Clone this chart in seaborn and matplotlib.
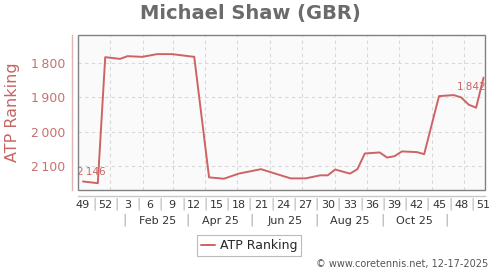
import matplotlib
matplotlib.use('Agg')
import matplotlib.pyplot as plt
import seaborn as sns
import pandas as pd
import numpy as np
from matplotlib.transforms import blended_transform_factory
from matplotlib.patches import Rectangle

# ---- data ----
week_index = [0, 2, 3, 5, 6, 8, 10, 12, 15, 17, 19, 21, 24, 28, 30, 32, 33, 34,
              36, 37, 38, 40, 41, 42, 43, 45, 46, 48, 50, 51, 52, 53, 54]
ranking = [2146, 2151, 1782, 1787, 1779, 1781, 1773, 1773, 1781, 2134, 2138, 2123,
           2110, 2137, 2137, 2128, 2128, 2111, 2123, 2110, 2064, 2061, 2076, 2072,
           2058, 2060, 2066, 1896, 1893, 1900, 1921, 1930, 1842]
week_labels = ['49', '52', '3', '6', '9', '12', '15', '18', '21', '24', '27', '30',
               '33', '36', '39', '42', '45', '48', '51']
week_label_pos = list(range(0, 55, 3))
month_labels = ['Feb 25', 'Apr 25', 'Jun 25', 'Aug 25', 'Oct 25']
month_label_dates = ['2025-02-15', '2025-04-15', '2025-06-15', '2025-08-15', '2025-10-15']
month_sep_dates = ['2025-01-15', '2025-03-15', '2025-05-15', '2025-07-15', '2025-09-15', '2025-11-15']
grid_month_dates = ['2025-01-01', '2025-02-01', '2025-03-01', '2025-04-01', '2025-05-01',
                    '2025-06-01', '2025-07-01', '2025-08-01', '2025-09-01', '2025-10-01',
                    '2025-11-01', '2025-12-01']
y_ticks = [1800, 1900, 2000, 2100]
start = pd.Timestamp('2024-12-06 12:00')


def to_week(dates):
    return [(pd.Timestamp(d) - start) / pd.Timedelta(days=7) for d in dates]


df = pd.DataFrame({'week': week_index, 'ATP Ranking': ranking})

LINE = '#cd6464'
TICKRED = '#c87070'

sns.set_style('white')
plt.rcParams['font.family'] = ['DejaVu Sans']

fig = plt.figure(figsize=(5, 2.7), dpi=100)
ax = fig.add_axes([78 / 500, 1 - 190 / 270, 407 / 500, 155 / 270])
ax.set_facecolor('#fafafa')

sns.lineplot(data=df, x='week', y='ATP Ranking', color=LINE, linewidth=1.4,
             label='ATP Ranking', ax=ax, legend=False)

ax.set_xlim(-0.67, 54.2)
ax.set_ylim(2171, 1717)

# y axis
ax.set_yticks(y_ticks)
ax.set_yticklabels([f'{v:,}'.replace(',', '\u2009') for v in y_ticks])
ax.tick_params(axis='y', length=0, pad=5, labelsize=9, labelcolor=TICKRED)
ax.set_ylabel('ATP Ranking', color='#c86464', fontsize=11.5)
ax.yaxis.set_label_coords(-0.143, 0.5)

# x axis
ax.set_xticks(week_label_pos)
ax.set_xticklabels(week_labels)
ax.set_xticks(to_week(grid_month_dates), minor=True)
ax.tick_params(axis='x', which='both', length=0, pad=3, labelsize=8, labelcolor='#333333')
ax.set_xlabel('')

ax.grid(False)
ax.grid(which='minor', axis='x', linestyle=(0, (3, 3)), color='#d8d8d8', linewidth=0.8)
ax.grid(which='major', axis='y', linestyle=(0, (3, 3)), color='#d8d8d8', linewidth=0.8)

for s in ['top', 'right']:
    ax.spines[s].set_visible(False)
ax.spines['left'].set_position(('outward', 4))
ax.spines['left'].set_color('#e0b4b4')
ax.spines['left'].set_linewidth(1.0)
ax.spines['bottom'].set_position(('outward', 4))
ax.spines['bottom'].set_color('#c8c8c8')
ax.spines['bottom'].set_linewidth(1.0)

ax.add_patch(Rectangle((0, 0), 1, 1, transform=ax.transAxes, fill=False,
                       edgecolor='#808080', linewidth=1.0, clip_on=False, zorder=5))

# separators between week labels and month row
tr = blended_transform_factory(ax.transData, fig.transFigure)
for p in np.arange(1.5, 54, 3):
    ax.text(p, 1 - 204 / 270, '|', transform=tr, ha='center', va='center',
            fontsize=9, color='#b0b0b0')
for lab, p in zip(month_labels, to_week(month_label_dates)):
    ax.text(p, 1 - 220.5 / 270, lab, transform=tr, ha='center', va='center',
            fontsize=8, color='#333333')
for p in to_week(month_sep_dates):
    ax.text(p, 1 - 220.5 / 270, '|', transform=tr, ha='center', va='center',
            fontsize=9.5, color='#b0b0b0')

# first / last value annotations
ax.annotate(f'{ranking[0]:,}'.replace(',', '\u2009'), (week_index[0], ranking[0]),
            xytext=(6, 6.5), textcoords='offset points', ha='center', va='center',
            fontsize=7.5, color=LINE)
ax.annotate(f'{ranking[-1]:,}'.replace(',', '\u2009'), (week_index[-1], ranking[-1]),
            xytext=(-9, -6.5), textcoords='offset points', ha='center', va='center',
            fontsize=7.5, color=LINE)

fig.suptitle('Michael Shaw (GBR)', x=0.5, y=1 - 13 / 270, va='center',
             fontsize=14, fontweight='bold', color='#6b6b6b')

handles, labels = ax.get_legend_handles_labels()
leg = fig.legend(handles, labels, loc='center', bbox_to_anchor=(249 / 500, 1 - 245.5 / 270),
                 fontsize=9, frameon=True, fancybox=False, edgecolor='#aaaaaa',
                 handlelength=1.1, handletextpad=0.4, borderpad=0.3, borderaxespad=0)
leg.get_frame().set_linewidth(0.8)

fig.text(488 / 500, 1 - 264 / 270, '\u00a9 www.coretennis.net, 12-17-2025',
         ha='right', va='center', fontsize=7, color='#555555')

fig.savefig('out.png', dpi=100)
